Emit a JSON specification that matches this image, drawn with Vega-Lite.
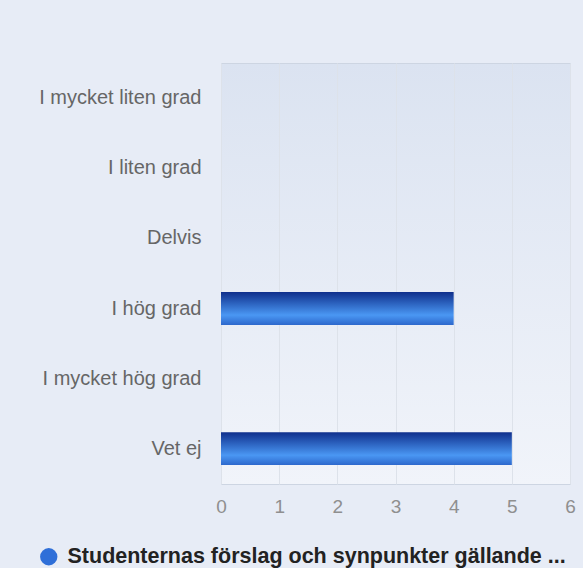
{
  "$schema": "https://vega.github.io/schema/vega-lite/v6.json",
  "autosize": {"type": "none"},
  "width": 349,
  "height": 421,
  "padding": {"left": 221, "top": 63, "right": 13, "bottom": 84},
  "background": "#e7ecf6",
  "data": {"values": [
    {"category": "I mycket liten grad", "value": 0, "series": "Studenternas förslag och synpunkter gällande ..."},
    {"category": "I liten grad", "value": 0, "series": "Studenternas förslag och synpunkter gällande ..."},
    {"category": "Delvis", "value": 0, "series": "Studenternas förslag och synpunkter gällande ..."},
    {"category": "I hög grad", "value": 4, "series": "Studenternas förslag och synpunkter gällande ..."},
    {"category": "I mycket hög grad", "value": 0, "series": "Studenternas förslag och synpunkter gällande ..."},
    {"category": "Vet ej", "value": 5, "series": "Studenternas förslag och synpunkter gällande ..."}
  ]},
  "mark": {
    "type": "bar",
    "fill": {"gradient": "linear", "x1": 0, "y1": 0, "x2": 0, "y2": 1,
      "stops": [
        {"offset": 0, "color": "#0f2f8c"},
        {"offset": 0.7, "color": "#4a97f3"},
        {"offset": 1, "color": "#2d68cc"}
      ]}
  },
  "encoding": {
    "y": {
      "field": "category", "type": "nominal", "sort": null,
      "scale": {"paddingInner": 0.53, "paddingOuter": 0.27},
      "axis": {"title": null, "ticks": false, "domain": false, "grid": false,
        "labelFont": "Liberation Sans", "labelFontSize": 20, "labelColor": "#666666",
        "labelPadding": 20, "labelLimit": 300}
    },
    "x": {
      "field": "value", "type": "quantitative",
      "scale": {"domain": [0, 6], "nice": false},
      "axis": {"title": null, "ticks": false, "domain": false, "tickCount": 6,
        "grid": true, "gridColor": "#dde2ea", "gridWidth": 1,
        "labelFont": "Liberation Sans", "labelFontSize": 19, "labelColor": "#8f8f8f",
        "labelPadding": 13, "labelFlush": false}
    },
    "color": {
      "field": "series", "type": "nominal",
      "scale": {"range": ["#2f6fd8"]},
      "legend": {"title": null, "orient": "none", "legendX": -183, "legendY": 483,
        "symbolType": "circle", "symbolSize": 300, "symbolStrokeWidth": 0,
        "labelFont": "Liberation Sans", "labelFontSize": 21.5, "labelFontWeight": "bold",
        "labelColor": "#222222", "labelLimit": 600, "labelOffset": 8}
    }
  },
  "config": {
    "view": {
      "stroke": "#cdd5e2",
      "fill": {"gradient": "linear", "x1": 0, "y1": 0, "x2": 0, "y2": 1,
        "stops": [{"offset": 0, "color": "#dbe3f1"}, {"offset": 1, "color": "#f1f4fa"}]}
    }
  }
}
